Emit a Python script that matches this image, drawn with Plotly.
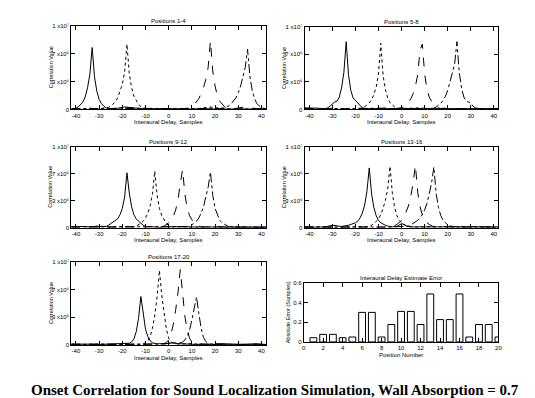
import plotly.graph_objects as go

W, H = 535, 398

# ---------------- data ----------------
panel_titles = ["Positions 1-4", "Positions 5-8", "Positions 9-12",
                "Positions 13-16", "Positions 17-20"]
x_ticks = [-40, -30, -20, -10, 0, 10, 20, 30, 40]
y_tickvals = [0, 3.333, 6.667, 10]          # correlation value, millions
y_ticktext = ["0", "3 x10\u2076", "7 x10\u2076", "1 x10\u2077"]

# Panel 1 (positions 1-4)
p1_solid_x = [-42,-41,-40,-39,-38,-37,-36,-35,-34,-33,-32,-31,-30,-29,-28,-27,-25,-22,-19,-17,-14,-10,-5,0,5,10,15,20,25,30,35,40,42]
p1_solid_y = [0.0,0.05,0.15,0.3,0.55,0.9,1.5,2.6,4.2,7.4,3.9,2.2,1.2,0.7,0.4,0.2,0.1,0.15,0.3,0.25,0.1,0.05,0.1,0.05,0.08,0.05,0.1,0.05,0.05,0.1,0.05,0.05,0.05]
p1_dot_x = [-42,-38,-34,-30,-27,-26,-25,-24,-23,-22,-21,-20,-19,-18,-17,-16,-15,-14,-13,-12,-11,-10,-8,-4,0,4,8,12,16,18,20,24,28,32,36,40,42]
p1_dot_y = [0.05,0.1,0.15,0.1,0.15,0.25,0.4,0.6,0.9,1.4,2.1,3.0,4.5,7.8,4.3,2.6,1.6,1.0,0.6,0.35,0.2,0.1,0.05,0.1,0.05,0.1,0.15,0.1,0.2,0.3,0.2,0.1,0.05,0.1,0.05,0.1,0.05]
p1_dash_x = [-42,-36,-30,-24,-18,-12,-6,0,4,8,9,10,11,12,13,14,15,16,17,18,19,20,21,22,23,24,25,26,28,30,33,36,40,42]
p1_dash_y = [0.05,0.1,0.05,0.1,0.2,0.1,0.15,0.1,0.05,0.1,0.2,0.35,0.6,0.9,1.3,1.9,2.6,3.6,5.0,8.2,4.6,2.8,1.6,1.0,0.6,0.35,0.2,0.1,0.1,0.2,0.3,0.15,0.1,0.05]
p1_dd_x = [-42,-36,-30,-24,-18,-12,-6,0,6,12,18,22,24,25,26,27,28,29,30,31,32,33,34,35,36,37,38,39,40,41,42]
p1_dd_y = [0.05,0.1,0.1,0.05,0.1,0.15,0.1,0.05,0.1,0.05,0.15,0.1,0.2,0.3,0.45,0.7,1.0,1.4,2.0,2.8,3.9,5.0,7.2,4.0,2.3,1.3,0.7,0.4,0.2,0.15,0.1]

# Panel 2 (positions 5-8)
p2_solid_x = [-42,-40,-36,-33,-32,-31,-30,-29,-28,-27,-26,-25,-24,-23,-22,-21,-20,-19,-18,-17,-16,-14,-10,-5,0,5,10,15,20,25,30,35,40,42]
p2_solid_y = [0.2,0.2,0.15,0.1,0.2,0.4,0.7,0.9,1.0,1.5,2.6,4.5,8.2,4.2,2.3,1.4,1.1,0.8,0.4,0.2,0.1,0.1,0.05,0.1,0.15,0.1,0.05,0.1,0.1,0.05,0.1,0.05,0.1,0.1]
p2_dot_x = [-42,-36,-30,-24,-20,-18,-17,-16,-15,-14,-13,-12,-11,-10,-9,-8,-7,-6,-5,-4,-3,-2,-1,0,4,8,12,18,24,30,36,42]
p2_dot_y = [0.1,0.05,0.1,0.15,0.1,0.1,0.2,0.35,0.55,0.8,1.2,1.8,2.7,4.3,8.0,4.1,2.4,1.4,0.8,0.5,0.3,0.2,0.1,0.1,0.15,0.2,0.1,0.05,0.1,0.05,0.1,0.05]
p2_dash_x = [-42,-36,-30,-24,-18,-12,-6,-2,0,1,2,3,4,5,6,7,8,9,10,11,12,13,14,15,16,17,18,22,26,30,36,42]
p2_dash_y = [0.05,0.1,0.05,0.1,0.15,0.1,0.2,0.1,0.2,0.35,0.6,0.9,1.3,1.9,2.8,4.2,7.2,7.9,4.3,2.5,1.5,0.9,0.5,0.3,0.2,0.1,0.15,0.1,0.1,0.05,0.1,0.05]
p2_dd_x = [-42,-36,-30,-24,-18,-12,-6,0,6,12,14,15,16,17,18,19,20,21,22,23,24,25,26,27,28,29,30,31,32,34,38,42]
p2_dd_y = [0.1,0.05,0.1,0.05,0.1,0.15,0.1,0.05,0.1,0.1,0.15,0.3,0.5,0.75,1.1,1.6,2.3,3.2,4.4,5.5,8.2,4.5,2.6,1.5,1.0,0.9,0.8,0.4,0.2,0.1,0.1,0.05]

# Panel 3 (positions 9-12)
p3_solid_x = [-42,-38,-34,-30,-27,-26,-25,-24,-23,-22,-21,-20,-19,-18,-17,-16,-15,-14,-13,-12,-11,-10,-8,-4,0,4,8,12,16,20,25,30,35,40,42]
p3_solid_y = [0.1,0.15,0.1,0.1,0.15,0.3,0.5,0.7,0.9,1.1,1.6,2.4,3.8,6.8,4.3,2.6,1.6,1.1,0.8,0.5,0.3,0.15,0.1,0.05,0.1,0.1,0.05,0.1,0.05,0.1,0.05,0.1,0.05,0.1,0.05]
p3_dot_x = [-42,-36,-30,-26,-22,-18,-15,-14,-13,-12,-11,-10,-9,-8,-7,-6,-5,-4,-3,-2,-1,0,1,2,4,8,12,18,24,30,36,42]
p3_dot_y = [0.15,0.1,0.2,0.1,0.15,0.1,0.1,0.2,0.35,0.55,0.8,1.2,1.8,2.7,4.2,7.0,4.0,2.4,1.5,0.9,0.5,0.3,0.15,0.1,0.15,0.1,0.05,0.1,0.05,0.1,0.1,0.05]
p3_dash_x = [-42,-36,-30,-24,-18,-12,-6,-3,-2,-1,0,1,2,3,4,5,6,7,8,9,10,11,12,13,14,16,20,24,30,36,42]
p3_dash_y = [0.1,0.05,0.1,0.1,0.05,0.1,0.15,0.1,0.2,0.35,0.6,0.9,1.4,2.2,3.4,5.5,7.2,4.1,2.4,1.5,0.9,0.5,0.3,0.15,0.1,0.1,0.15,0.1,0.05,0.1,0.05]
p3_dd_x = [-42,-36,-30,-24,-18,-12,-6,0,4,8,9,10,11,12,13,14,15,16,17,18,19,20,21,22,23,24,25,26,28,32,36,42]
p3_dd_y = [0.05,0.15,0.1,0.05,0.1,0.1,0.15,0.1,0.1,0.15,0.2,0.35,0.55,0.8,1.2,1.8,2.6,3.8,5.0,6.9,4.0,2.4,1.5,0.9,0.6,0.4,0.2,0.1,0.15,0.1,0.05,0.1]

# Panel 4 (positions 13-16)
p4_solid_x = [-42,-38,-33,-30,-26,-24,-23,-22,-21,-20,-19,-18,-17,-16,-15,-14,-13,-12,-11,-10,-9,-8,-7,-6,-4,-2,0,1,2,4,8,12,18,24,30,36,42]
p4_solid_y = [0.1,0.05,0.1,0.3,0.15,0.2,0.3,0.4,0.5,0.6,0.8,1.2,1.8,2.8,4.5,7.4,4.2,2.5,1.5,0.9,0.6,0.4,0.3,0.2,0.1,0.15,0.5,0.4,0.2,0.1,0.1,0.05,0.1,0.05,0.1,0.05,0.1]
p4_dot_x = [-42,-36,-30,-24,-18,-14,-13,-12,-11,-10,-9,-8,-7,-6,-5,-4,-3,-2,-1,0,1,2,3,4,6,10,14,20,26,32,38,42]
p4_dot_y = [0.05,0.1,0.05,0.1,0.1,0.15,0.3,0.5,0.75,1.1,1.6,2.4,3.4,4.8,7.6,4.3,2.5,1.5,0.9,0.6,0.4,0.25,0.15,0.1,0.05,0.1,0.1,0.05,0.1,0.05,0.1,0.05]
p4_dash_x = [-42,-36,-30,-24,-18,-12,-6,-4,-3,-2,-1,0,1,2,3,4,5,6,7,8,9,10,11,12,13,14,16,20,26,32,38,42]
p4_dash_y = [0.1,0.05,0.1,0.05,0.1,0.05,0.1,0.15,0.25,0.4,0.6,0.9,1.3,1.9,2.7,3.9,5.5,7.75,4.4,2.6,1.6,1.0,0.6,0.4,0.2,0.1,0.15,0.1,0.05,0.1,0.05,0.1]
p4_dd_x = [-42,-36,-30,-24,-18,-12,-6,0,3,4,5,6,7,8,9,10,11,12,13,14,15,16,17,18,19,20,21,22,24,28,34,42]
p4_dd_y = [0.05,0.1,0.05,0.1,0.05,0.1,0.05,0.1,0.2,0.35,0.5,0.7,0.9,1.2,1.6,2.2,3.0,4.2,5.5,7.5,4.2,2.5,1.5,0.9,0.6,0.35,0.2,0.15,0.1,0.15,0.1,0.05]

# Panel 5 (positions 17-20)
p5_solid_x = [-42,-36,-30,-24,-20,-18,-17,-16,-15,-14,-13,-12,-11,-10,-9,-8,-7,-6,-5,-4,-2,0,2,4,8,12,16,20,26,32,38,42]
p5_solid_y = [0.05,0.1,0.05,0.1,0.1,0.15,0.2,0.35,0.7,1.6,3.2,5.85,3.6,1.9,1.0,0.5,0.25,0.15,0.1,0.15,0.1,0.2,0.25,0.15,0.1,0.05,0.1,0.05,0.1,0.05,0.1,0.05]
p5_dot_x = [-42,-36,-30,-24,-18,-14,-12,-11,-10,-9,-8,-7,-6,-5,-4,-3,-2,-1,0,1,2,3,4,8,12,18,24,30,36,42]
p5_dot_y = [0.1,0.05,0.1,0.05,0.1,0.05,0.1,0.15,0.25,0.5,1.0,2.0,3.6,5.8,9.0,6.0,3.6,1.9,0.8,0.35,0.2,0.15,0.1,0.15,0.1,0.05,0.1,0.05,0.1,0.05]
p5_dash_x = [-42,-36,-30,-24,-18,-12,-6,-3,-2,-1,0,1,2,3,4,5,6,7,8,9,10,11,12,14,18,24,30,36,42]
p5_dash_y = [0.05,0.1,0.05,0.1,0.05,0.1,0.15,0.1,0.15,0.3,0.6,1.3,2.5,4.2,6.3,9.1,5.8,3.4,1.8,0.8,0.35,0.2,0.15,0.1,0.05,0.1,0.05,0.1,0.05]
p5_dd_x = [-42,-36,-30,-24,-18,-12,-6,0,4,5,6,7,8,9,10,11,12,13,14,15,16,17,18,20,24,30,36,42]
p5_dd_y = [0.1,0.05,0.1,0.05,0.1,0.05,0.1,0.15,0.2,0.25,0.35,0.6,1.0,1.8,3.0,4.3,5.8,3.8,2.0,0.9,0.4,0.2,0.1,0.15,0.1,0.05,0.1,0.05]

# Bar chart: interaural delay estimate error
positions = list(range(1, 21))
abs_error = [0.043, 0.077, 0.077, 0.043, 0.05, 0.30, 0.30, 0.05, 0.177, 0.31,
             0.31, 0.177, 0.487, 0.227, 0.227, 0.487, 0.05, 0.177, 0.177, 0.05]
bar_xticks = [0, 2, 4, 6, 8, 10, 12, 14, 16, 18, 20]
bar_yticks = [0, 0.2, 0.4, 0.6]
bar_yticktext = ["0", "0.2", "0.4", "0.6"]

panels = [
    [(p1_solid_x, p1_solid_y), (p1_dot_x, p1_dot_y), (p1_dash_x, p1_dash_y), (p1_dd_x, p1_dd_y)],
    [(p2_solid_x, p2_solid_y), (p2_dot_x, p2_dot_y), (p2_dash_x, p2_dash_y), (p2_dd_x, p2_dd_y)],
    [(p3_solid_x, p3_solid_y), (p3_dot_x, p3_dot_y), (p3_dash_x, p3_dash_y), (p3_dd_x, p3_dd_y)],
    [(p4_solid_x, p4_solid_y), (p4_dot_x, p4_dot_y), (p4_dash_x, p4_dash_y), (p4_dd_x, p4_dd_y)],
    [(p5_solid_x, p5_solid_y), (p5_dot_x, p5_dot_y), (p5_dash_x, p5_dash_y), (p5_dd_x, p5_dd_y)],
]
dashes = ["solid", "dot", "dash", "dashdot"]

# ---------------- layout (pixel boxes: left, right, top, bottom) ----------------
boxes = [(62, 259, 15, 100), (298, 494, 16, 100),
         (62, 259, 138, 220), (298, 494, 138, 220),
         (62, 259, 255, 339), (297, 494, 276, 336)]

def xd(px):
    return px / W

def yd(py):
    return 1 - py / H

FONT = "Liberation Sans"
FS = 6
tickfont = dict(family=FONT, size=FS, color="black")

fig = go.Figure()
layout = dict(width=W, height=H, margin=dict(l=0, r=0, t=0, b=0),
              paper_bgcolor="white", plot_bgcolor="white", showlegend=False)
annotations = []

axis_common = dict(showline=True, linecolor="black", linewidth=1, mirror="ticks",
                   ticks="inside", ticklen=4, tickwidth=1, tickcolor="black",
                   showgrid=False, zeroline=False, tickfont=tickfont, fixedrange=True)

for i, (l, r, t, b) in enumerate(boxes):
    n = "" if i == 0 else str(i + 1)
    xa = dict(axis_common, domain=[xd(l), xd(r)], anchor="y" + n)
    ya = dict(axis_common, domain=[yd(b), yd(t)], anchor="x" + n)
    if i < 5:
        xa.update(range=[-42, 42], tickvals=x_ticks, ticktext=[str(v) for v in x_ticks])
        ya.update(range=[0, 10], tickvals=y_tickvals, ticktext=y_ticktext)
        for (xs, ys), d in zip(panels[i], dashes):
            fig.add_trace(go.Scatter(x=xs, y=ys, mode="lines",
                                     line=dict(color="black", width=1, dash=d),
                                     xaxis="x" + n, yaxis="y" + n, hoverinfo="skip"))
        title = panel_titles[i]
        xtitle = "Interaural Delay, Samples"
        ytitle = "Correlation Value"
        ytitle_x = l - 21
    else:
        xa.update(range=[0, 20], tickvals=bar_xticks, ticktext=[str(v) for v in bar_xticks])
        ya.update(range=[0, 0.6], tickvals=bar_yticks, ticktext=bar_yticktext)
        fig.add_trace(go.Bar(x=positions, y=abs_error, width=0.7,
                             marker=dict(color="white", line=dict(color="black", width=1)),
                             xaxis="x" + n, yaxis="y" + n, hoverinfo="skip"))
        title = "Interaural Delay Estimate Error"
        xtitle = "Position Number"
        ytitle = "Absolute Error (Samples)"
        ytitle_x = l - 15
    layout["xaxis" + n] = xa
    layout["yaxis" + n] = ya
    cx = (l + r) / 2
    annotations.append(dict(text=title, x=xd(cx), y=yd(t - 5), xref="paper", yref="paper",
                            showarrow=False, font=dict(family=FONT, size=FS, color="black"),
                            xanchor="center", yanchor="middle"))
    annotations.append(dict(text=xtitle, x=xd(cx), y=yd(b + 13), xref="paper", yref="paper",
                            showarrow=False, font=dict(family=FONT, size=FS, color="black"),
                            xanchor="center", yanchor="middle"))
    annotations.append(dict(text=ytitle, x=xd(ytitle_x), y=yd((t + b) / 2), xref="paper",
                            yref="paper", showarrow=False, textangle=-90,
                            font=dict(family=FONT, size=5.5, color="black"),
                            xanchor="center", yanchor="middle"))

annotations.append(dict(text="<b>Onset Correlation for Sound Localization Simulation, Wall Absorption = 0.7</b>",
                        x=0.5, y=yd(385), xref="paper", yref="paper", showarrow=False,
                        font=dict(family="Liberation Serif", size=15, color="black"),
                        xanchor="center", yanchor="middle"))
layout["annotations"] = annotations
fig.update_layout(**layout)

fig.write_html("out.html")
